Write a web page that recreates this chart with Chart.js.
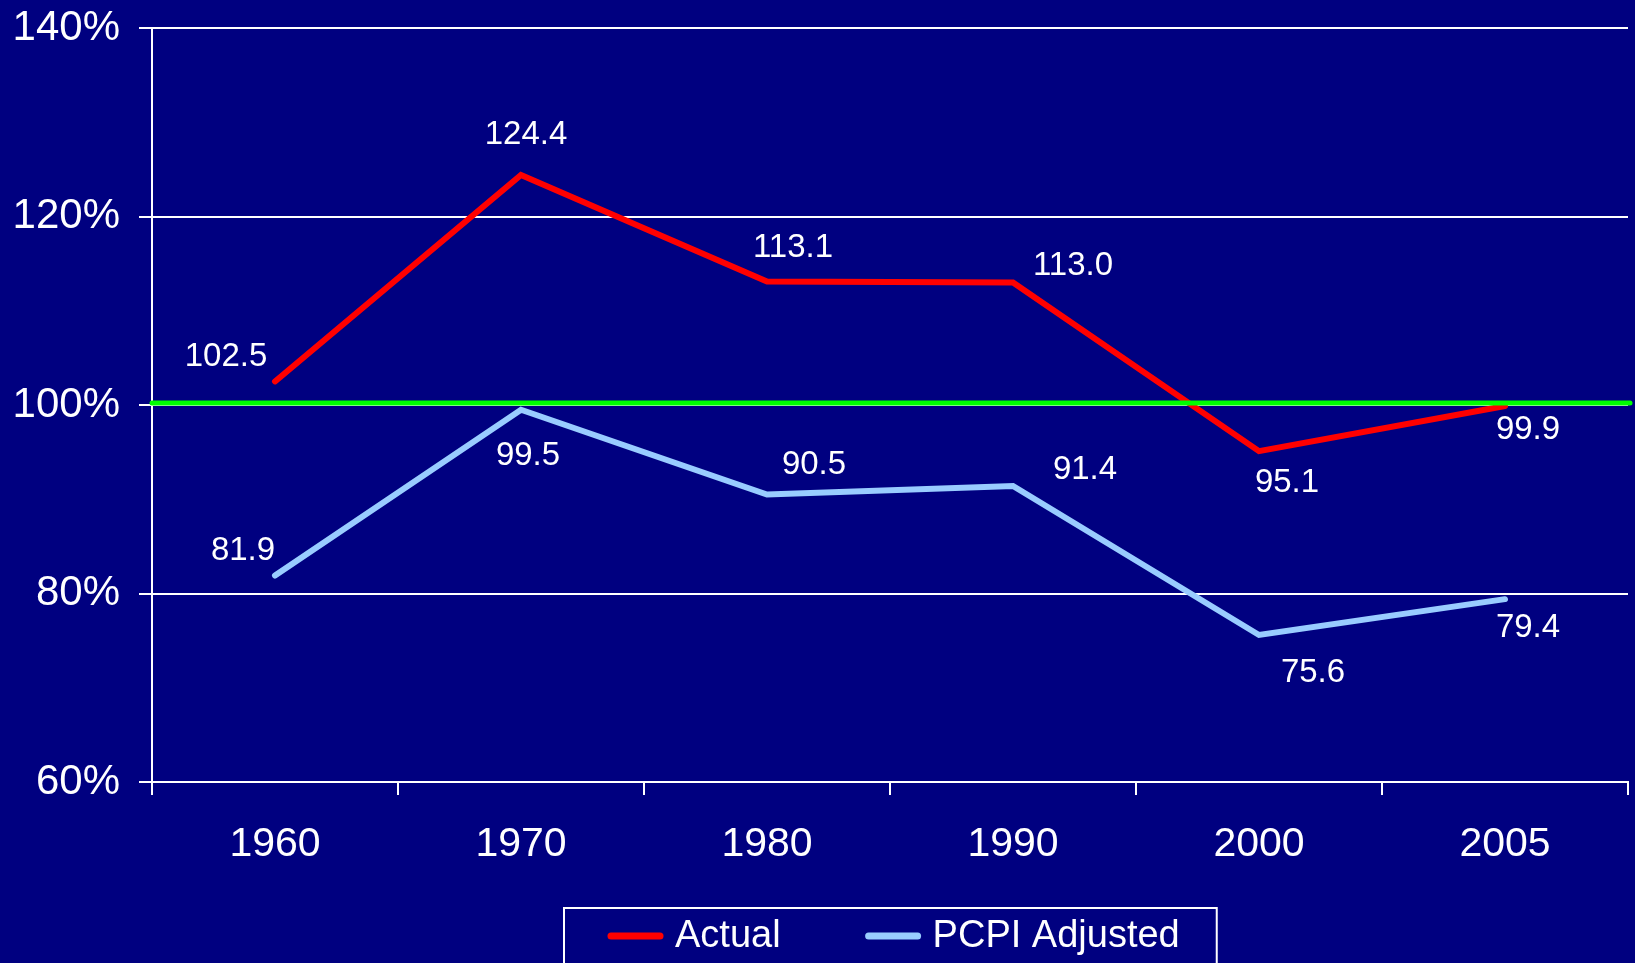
<!DOCTYPE html>
<html>
<head>
<meta charset="utf-8">
<script src="https://cdn.jsdelivr.net/npm/chart.js@4/dist/chart.umd.min.js"></script>
<style>
  html, body { margin: 0; padding: 0; background: #000080; }
  #wrap { width: 1635px; height: 963px; position: relative; }
</style>
</head>
<body>
<div id="wrap"><canvas id="grafico"></canvas></div>
<script>
const anios = ['1960', '1970', '1980', '1990', '2000', '2005'];
const actual = [102.5, 124.4, 113.1, 113.0, 95.1, 99.9];
const pcpiAjustado = [81.9, 99.5, 90.5, 91.4, 75.6, 79.4];
const referencia = 100;
const yMin = 60, yMax = 140, yPaso = 20;

const fuente = "'Liberation Sans', Arial, sans-serif";
const blanco = '#ffffff';

// desplazamiento de cada etiqueta respecto a su punto (px)
const despEtiquetas = [
    [[-49, -25], [5, -40], [26, -34], [60, -17], [28, 32], [23, 24]],
    [[-32, -25], [7, 46], [47, -30], [72, -16], [54, 38], [23, 29]]
];

const fondo = {
    id: 'fondo',
    beforeDraw(c) {
        const ctx = c.ctx;
        ctx.save();
        ctx.fillStyle = '#000080';
        ctx.fillRect(0, 0, c.width, c.height);
        ctx.restore();
    }
};

const lineaRef = {
    id: 'lineaRef',
    afterDatasetsDraw(c) {
        const ctx = c.ctx;
        const y = c.scales.y.getPixelForValue(referencia) - 2;
        ctx.save();
        ctx.strokeStyle = '#00ff00';
        ctx.lineWidth = 5;
        ctx.lineCap = 'round';
        ctx.beginPath();
        ctx.moveTo(c.chartArea.left, y);
        ctx.lineTo(c.chartArea.right + 2, y);
        ctx.stroke();
        ctx.restore();
    }
};

const etiquetas = {
    id: 'etiquetas',
    afterDraw(c) {
        const ctx = c.ctx;
        ctx.save();
        ctx.fillStyle = blanco;
        ctx.font = '33px ' + fuente;
        ctx.textAlign = 'center';
        ctx.textBaseline = 'middle';
        c.data.datasets.forEach((ds, i) => {
            const meta = c.getDatasetMeta(i);
            meta.data.forEach((p, j) => {
                const d = despEtiquetas[i][j];
                ctx.fillText(ds.data[j].toFixed(1), p.x + d[0], p.y + d[1]);
            });
        });
        ctx.restore();
    }
};

const leyenda = {
    id: 'leyenda',
    afterDraw(c) {
        const ctx = c.ctx;
        ctx.save();
        ctx.font = '38px ' + fuente;
        const anchos = c.data.datasets.map(ds => ctx.measureText(ds.label).width);
        const muestra = 55, hueco = 12, sep = 85, izq = 44, der = 37;
        const total = izq + der + anchos.reduce((a, w) => a + muestra + hueco + w, 0) + sep * (anchos.length - 1);
        const centro = (c.chartArea.left + c.chartArea.right) / 2;
        const x0 = Math.round(centro - total / 2);
        const top = 908;
        ctx.strokeStyle = blanco;
        ctx.lineWidth = 2;
        ctx.strokeRect(x0, top, total, 80);
        let x = x0 + izq;
        const yc = 936;
        c.data.datasets.forEach((ds, i) => {
            ctx.strokeStyle = ds.borderColor;
            ctx.lineWidth = 7;
            ctx.lineCap = 'round';
            ctx.beginPath();
            ctx.moveTo(x + 3, yc);
            ctx.lineTo(x + muestra - 3, yc);
            ctx.stroke();
            x += muestra + hueco;
            ctx.fillStyle = blanco;
            ctx.textBaseline = 'middle';
            ctx.fillText(ds.label, x, yc + 1);
            x += anchos[i] + sep;
        });
        ctx.restore();
    }
};

new Chart(document.getElementById('grafico'), {
    type: 'line',
    data: {
        labels: anios,
        datasets: [{
            label: 'Actual',
            data: actual,
            borderColor: '#ff0000',
            backgroundColor: '#ff0000',
            borderWidth: 6,
            borderCapStyle: 'round',
            pointRadius: 0,
            tension: 0
        }, {
            label: 'PCPI Adjusted',
            data: pcpiAjustado,
            borderColor: '#99ccff',
            backgroundColor: '#99ccff',
            borderWidth: 6,
            borderCapStyle: 'round',
            pointRadius: 0,
            tension: 0
        }]
    },
    options: {
        responsive: true,
        maintainAspectRatio: false,
        animation: false,
        layout: { padding: { top: 28, right: 7, left: 0, bottom: 0 } },
        plugins: {
            legend: { display: false },
            tooltip: { enabled: false }
        },
        scales: {
            x: {
                offset: true,
                afterFit(s) { s.height = 181; },
                grid: {
                    offset: true,
                    drawOnChartArea: false,
                    drawTicks: true,
                    tickLength: 13,
                    color: blanco,
                    lineWidth: 2
                },
                border: { color: blanco, width: 2 },
                ticks: {
                    color: blanco,
                    padding: 25,
                    font: { family: fuente, size: 41 }
                }
            },
            y: {
                min: yMin,
                max: yMax,
                afterFit(s) {
                    s.width = 152;
                    s.paddingTop = 0;
                    s.paddingBottom = 0;
                },
                grid: {
                    color: blanco,
                    lineWidth: 2,
                    tickLength: 13
                },
                border: { color: blanco, width: 2 },
                ticks: {
                    stepSize: yPaso,
                    color: blanco,
                    padding: 19,
                    font: { family: fuente, size: 42 },
                    callback: v => v + '%'
                }
            }
        }
    },
    plugins: [fondo, lineaRef, etiquetas, leyenda]
});
</script>
</body>
</html>
